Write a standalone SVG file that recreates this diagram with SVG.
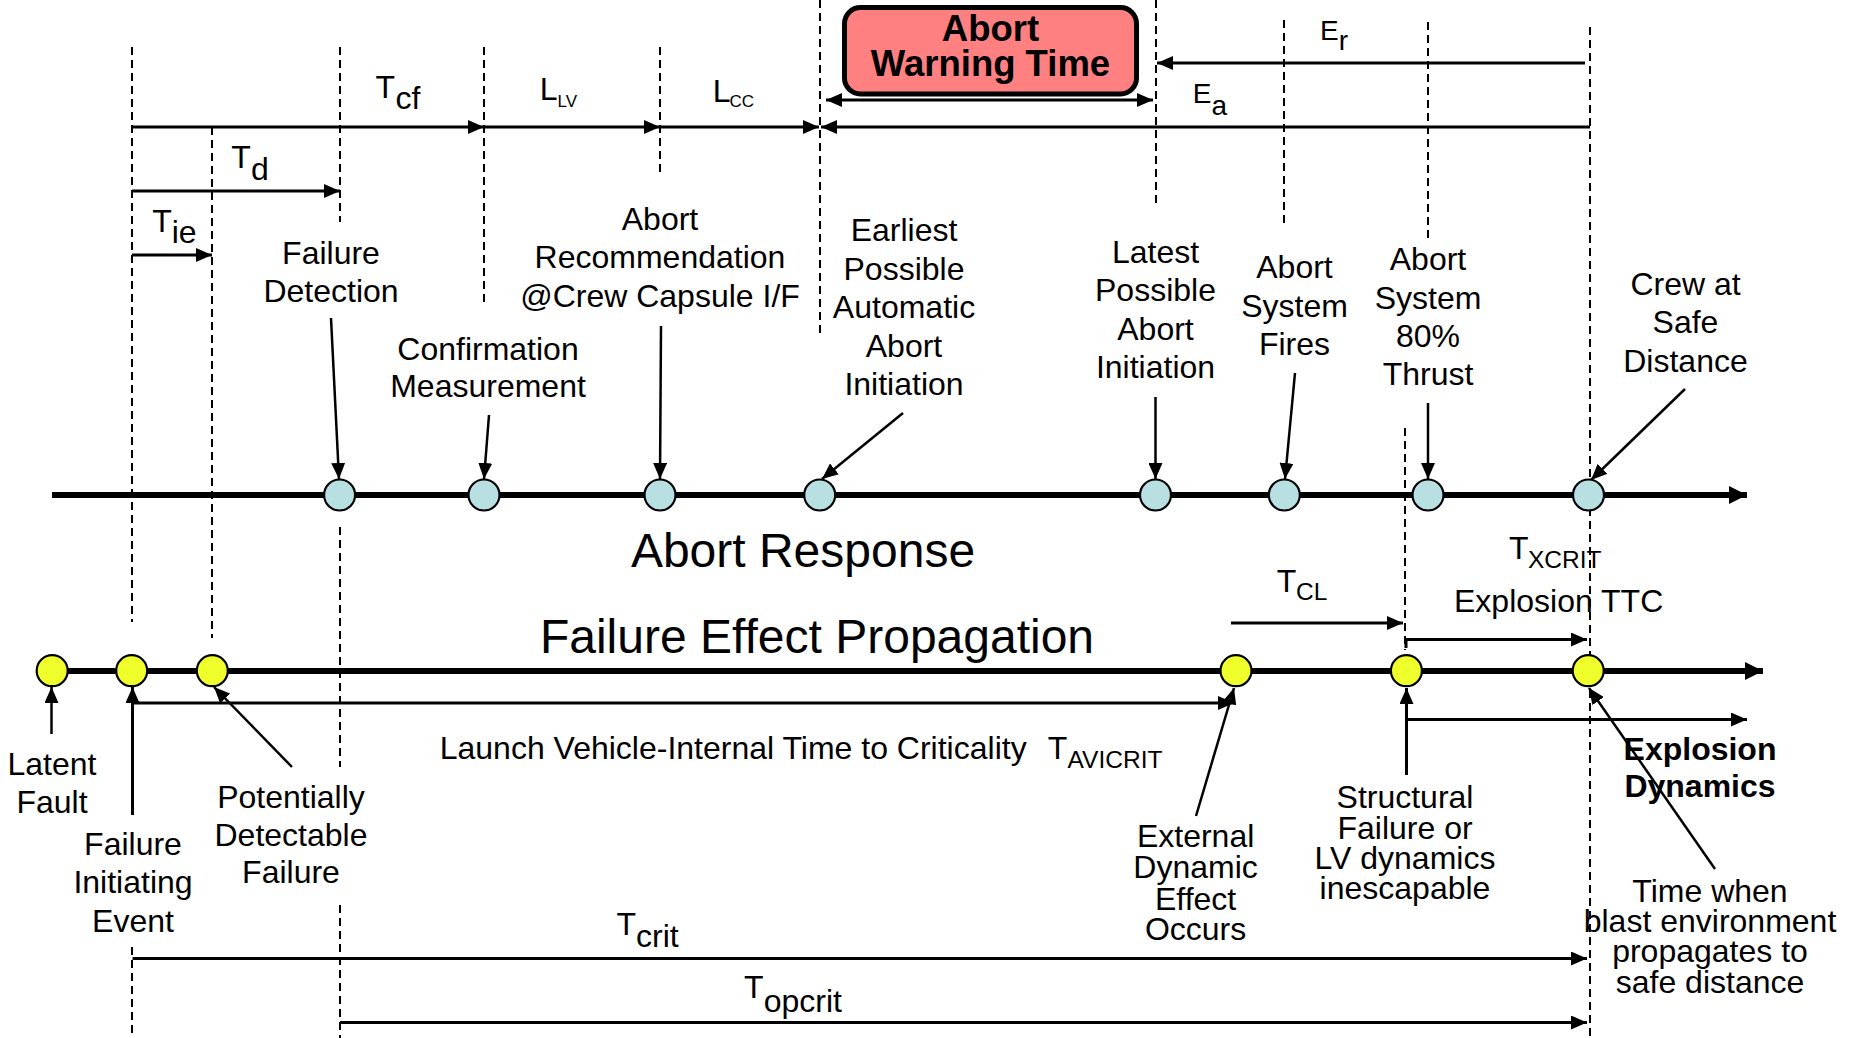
<svg xmlns="http://www.w3.org/2000/svg" width="1851" height="1038" viewBox="0 0 1851 1038">
  <defs>
    <style>
      text { font-family: "Liberation Sans", Arial, sans-serif; fill: #000; }
      .lbl { font-size: 32px; text-anchor: middle; }
      .big { font-size: 48px; text-anchor: middle; }
      .meas { font-size: 32px; }
      .sub { font-size: 24.5px; }
      .tiny { font-size: 17px; }
      .bold { font-weight: bold; }
      .dash { stroke: #000; stroke-width: 2; stroke-dasharray: 8 5; fill: none; }
      .arr { stroke: #000; stroke-width: 3; fill: none; }
      .ptr { stroke: #000; stroke-width: 2.5; fill: none; }
      .axis { stroke: #000; stroke-width: 6; fill: none; }
      .blue { fill: #B8DFE1; stroke: #000; stroke-width: 2.2; }
      .yel { fill: #EFFF2C; stroke: #000; stroke-width: 2.2; }
    </style>
    <marker id="ah" markerUnits="userSpaceOnUse" markerWidth="16" markerHeight="14" refX="16" refY="7" orient="auto-start-reverse">
      <path d="M0,0 L16,7 L0,14 z" fill="#000"/>
    </marker>
    <marker id="ahBig" markerUnits="userSpaceOnUse" markerWidth="18" markerHeight="18" refX="18" refY="9" orient="auto">
      <path d="M0,0 L18,9 L0,18 z" fill="#000"/>
    </marker>
  </defs>
  <rect width="1851" height="1038" fill="#fff"/>

  <!-- vertical dashed guide lines -->
  <g id="guides">
    <path class="dash" d="M132,47 V622 M132,947 V1038"/>
    <path class="dash" d="M212,127 V638"/>
    <path class="dash" d="M340,47 V222 M340,527 V767 M340,905 V1038"/>
    <path class="dash" d="M484,47 V302"/>
    <path class="dash" d="M660,47 V173"/>
    <path class="dash" d="M820,0 V333"/>
    <path class="dash" d="M1156,0 V207"/>
    <path class="dash" d="M1284,20 V223"/>
    <path class="dash" d="M1428,22 V238"/>
    <path class="dash" d="M1590,27 V1038"/>
    <path class="dash" d="M1405,428 V650"/>
  </g>

  <!-- arrows and timelines -->
  <g id="connectors">
    <line class="axis" x1="52" y1="495" x2="1747" y2="495" marker-end="url(#ahBig)"/>
    <line class="axis" x1="36" y1="671" x2="1763" y2="671" marker-end="url(#ahBig)"/>

    <line class="arr" x1="132" y1="127" x2="484" y2="127" marker-end="url(#ah)"/>
    <line class="arr" x1="484" y1="127" x2="660" y2="127" marker-end="url(#ah)"/>
    <line class="arr" x1="660" y1="127" x2="819" y2="127" marker-end="url(#ah)"/>
    <line class="arr" x1="1590" y1="127" x2="821" y2="127" marker-end="url(#ah)"/>
    <line class="arr" x1="1585" y1="63" x2="1157" y2="63" marker-end="url(#ah)"/>
    <line class="arr" x1="826" y1="100" x2="1153" y2="100" marker-start="url(#ah)" marker-end="url(#ah)"/>
    <line class="arr" x1="132" y1="191" x2="340" y2="191" marker-end="url(#ah)"/>
    <line class="arr" x1="132" y1="255" x2="212" y2="255" marker-end="url(#ah)"/>

    <line class="ptr" x1="331" y1="318" x2="339" y2="479" marker-end="url(#ah)"/>
    <line class="ptr" x1="489" y1="415" x2="484" y2="479" marker-end="url(#ah)"/>
    <line class="ptr" x1="661" y1="326" x2="660" y2="479" marker-end="url(#ah)"/>
    <line class="ptr" x1="903" y1="413" x2="822" y2="479" marker-end="url(#ah)"/>
    <line class="ptr" x1="1155.5" y1="397" x2="1155.5" y2="479" marker-end="url(#ah)"/>
    <line class="ptr" x1="1295" y1="373" x2="1285" y2="479" marker-end="url(#ah)"/>
    <line class="ptr" x1="1428" y1="403" x2="1428" y2="479" marker-end="url(#ah)"/>
    <line class="ptr" x1="1685" y1="389" x2="1591" y2="480" marker-end="url(#ah)"/>

    <line class="arr" x1="1231" y1="623" x2="1403" y2="623" marker-end="url(#ah)"/>
    <path class="arr" d="M1406,648 V639.5 H1587" marker-end="url(#ah)"/>

    <line class="ptr" x1="51.5" y1="734" x2="51.5" y2="687" marker-end="url(#ah)"/>
    <path class="arr" d="M132.5,815 V687"  marker-end="url(#ah)"/>
    <line class="arr" x1="132.5" y1="703" x2="1234" y2="703" marker-end="url(#ah)"/>
    <line class="ptr" x1="292" y1="767" x2="214" y2="687" marker-end="url(#ah)"/>
    <line class="ptr" x1="1196" y1="816" x2="1234" y2="688" marker-end="url(#ah)"/>
    <line class="arr" x1="1406.5" y1="775" x2="1406.5" y2="688" marker-end="url(#ah)"/>
    <line class="arr" x1="1406.5" y1="719.5" x2="1747" y2="719.5" marker-end="url(#ah)"/>
    <line class="ptr" x1="1715" y1="869" x2="1589" y2="688" marker-end="url(#ah)"/>
    <line class="arr" x1="132.5" y1="958.5" x2="1587" y2="958.5" marker-end="url(#ah)"/>
    <line class="arr" x1="340" y1="1022.5" x2="1587" y2="1022.5" marker-end="url(#ah)"/>
  </g>

  <!-- warning-time callout -->
  <g id="abort-warning-time">
    <rect x="844.5" y="7.5" width="292" height="86.5" rx="16" ry="16" fill="#FF8080" stroke="#000" stroke-width="5"/>
    <text class="bold" x="990.5" y="41" font-size="36.5" text-anchor="middle">Abort</text>
    <text class="bold" x="990.5" y="76" font-size="36.5" text-anchor="middle">Warning Time</text>
  </g>

  <!-- interval labels -->
  <g id="interval-labels">
    <text class="meas" x="375.6" y="98">T<tspan x="395.4" y="108.5">cf</tspan></text>
    <text class="meas" x="539.7" y="100">L<tspan class="tiny" x="557.5" y="107">LV</tspan></text>
    <text class="meas" x="712.7" y="101.7">L<tspan class="tiny" x="729.5" y="107.3">CC</tspan></text>
    <text class="meas" x="231.3" y="168.3">T<tspan x="251" y="180">d</tspan></text>
    <text class="meas" x="152.2" y="231.7">T<tspan x="171.7" y="242.7">ie</tspan></text>
    <text x="1192.7" y="103" font-size="28">E<tspan x="1211.5" y="115">a</tspan></text>
    <text x="1320" y="40" font-size="28">E<tspan x="1338.8" y="50">r</tspan></text>
    <text class="meas" x="1509" y="559">T<tspan class="sub" x="1528" y="568">XCRIT</tspan></text>
    <text class="meas" x="1276.8" y="591.7">T<tspan class="sub" x="1296" y="600">CL</tspan></text>
    <text class="meas" x="1454" y="611.7">Explosion TTC</text>
    <text class="meas" x="439.7" y="759">Launch Vehicle-Internal Time to Criticality</text>
    <text class="meas" x="1047.7" y="759">T<tspan class="sub" x="1067.6" y="768.3">AVICRIT</tspan></text>
    <text class="meas" x="616.6" y="935">T<tspan x="636" y="946.7">crit</tspan></text>
    <text class="meas" x="744" y="998.3">T<tspan x="763.7" y="1011.7">opcrit</tspan></text>
    <text class="big" x="803" y="566.7">Abort Response</text>
    <text class="big" x="817" y="652.7">Failure Effect Propagation</text>
  </g>

  <!-- abort response events -->
  <g id="failure-detection">
    <circle class="blue" cx="339.6" cy="495" r="15.5"/>
    <text class="lbl" x="331" y="264">Failure</text>
    <text class="lbl" x="331" y="301.7">Detection</text>
  </g>
  <g id="confirmation-measurement">
    <circle class="blue" cx="484" cy="495" r="15.5"/>
    <text class="lbl" x="488" y="360">Confirmation</text>
    <text class="lbl" x="488" y="397.3">Measurement</text>
  </g>
  <g id="abort-recommendation">
    <circle class="blue" cx="660" cy="495" r="15.5"/>
    <text class="lbl" x="660" y="230">Abort</text>
    <text class="lbl" x="660" y="268">Recommendation</text>
    <text class="lbl" x="660" y="306.5">@Crew Capsule I/F</text>
  </g>
  <g id="earliest-abort">
    <circle class="blue" cx="819.7" cy="495" r="15.5"/>
    <text class="lbl" x="904" y="241">Earliest</text>
    <text class="lbl" x="904" y="279.5">Possible</text>
    <text class="lbl" x="904" y="318">Automatic</text>
    <text class="lbl" x="904" y="356.5">Abort</text>
    <text class="lbl" x="904" y="395">Initiation</text>
  </g>
  <g id="latest-abort">
    <circle class="blue" cx="1155.5" cy="495" r="15.5"/>
    <text class="lbl" x="1155.5" y="262.5">Latest</text>
    <text class="lbl" x="1155.5" y="301">Possible</text>
    <text class="lbl" x="1155.5" y="339.5">Abort</text>
    <text class="lbl" x="1155.5" y="378.3">Initiation</text>
  </g>
  <g id="abort-system-fires">
    <circle class="blue" cx="1284.3" cy="495" r="15.5"/>
    <text class="lbl" x="1294.5" y="278">Abort</text>
    <text class="lbl" x="1294.5" y="316.7">System</text>
    <text class="lbl" x="1294.5" y="355">Fires</text>
  </g>
  <g id="abort-system-thrust">
    <circle class="blue" cx="1428" cy="495" r="15.5"/>
    <text class="lbl" x="1428" y="270">Abort</text>
    <text class="lbl" x="1428" y="308.5">System</text>
    <text class="lbl" x="1428" y="346.7">80%</text>
    <text class="lbl" x="1428" y="385">Thrust</text>
  </g>
  <g id="crew-safe">
    <circle class="blue" cx="1588.5" cy="495" r="15.5"/>
    <text class="lbl" x="1685.5" y="295">Crew at</text>
    <text class="lbl" x="1685.5" y="333.3">Safe</text>
    <text class="lbl" x="1685.5" y="371.7">Distance</text>
  </g>

  <!-- failure propagation events -->
  <g id="latent-fault">
    <circle class="yel" cx="52.2" cy="670.7" r="15.5"/>
    <text class="lbl" x="52" y="775">Latent</text>
    <text class="lbl" x="52" y="813.3">Fault</text>
  </g>
  <g id="failure-initiating-event">
    <circle class="yel" cx="131.7" cy="670.7" r="15.5"/>
    <text class="lbl" x="133" y="855">Failure</text>
    <text class="lbl" x="133" y="893.3">Initiating</text>
    <text class="lbl" x="133" y="931.7">Event</text>
  </g>
  <g id="potentially-detectable">
    <circle class="yel" cx="212.3" cy="670.7" r="15.5"/>
    <text class="lbl" x="291" y="807.7">Potentially</text>
    <text class="lbl" x="291" y="845.7">Detectable</text>
    <text class="lbl" x="291" y="883.3">Failure</text>
  </g>
  <g id="external-dynamic">
    <circle class="yel" cx="1236" cy="670.7" r="15.5"/>
    <text class="lbl" x="1195.6" y="846.7">External</text>
    <text class="lbl" x="1195.6" y="878.3">Dynamic</text>
    <text class="lbl" x="1195.6" y="910">Effect</text>
    <text class="lbl" x="1195.6" y="940">Occurs</text>
  </g>
  <g id="structural-failure">
    <circle class="yel" cx="1406.4" cy="670.7" r="15.5"/>
    <text class="lbl" x="1405" y="808.3">Structural</text>
    <text class="lbl" x="1405" y="838.5">Failure or</text>
    <text class="lbl" x="1405" y="868.7">LV dynamics</text>
    <text class="lbl" x="1405" y="898.9">inescapable</text>
  </g>
  <g id="blast-safe-distance">
    <circle class="yel" cx="1588.2" cy="670.7" r="15.5"/>
    <text class="lbl bold" x="1700" y="760">Explosion</text>
    <text class="lbl bold" x="1700" y="796.7">Dynamics</text>
    <text class="lbl" x="1710" y="901.7">Time when</text>
    <text class="lbl" x="1710" y="932">blast environment</text>
    <text class="lbl" x="1710" y="962.3">propagates to</text>
    <text class="lbl" x="1710" y="992.6">safe distance</text>
  </g>
</svg>
